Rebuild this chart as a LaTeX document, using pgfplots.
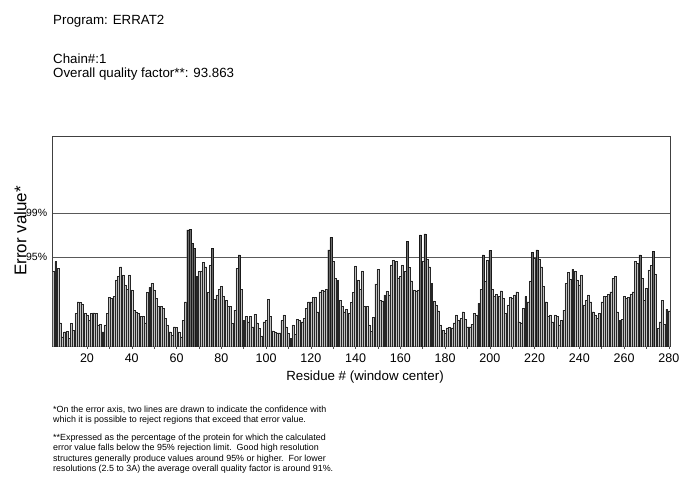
\documentclass[border=0pt]{standalone}
\usepackage{pgfplots}
\pgfplotsset{compat=1.18}
\usepackage{pgfplotstable}
\usepackage{fontspec}
\setmainfont{Liberation Sans}

% ERRAT2 error value per 9-residue window (window centre residue)
\pgfplotstableread{
res err
5 9.54
6 10.81
7 9.96
8 3.05
9 1.27
10 1.91
11 1.99
12 1.06
13 2.97
14 2.12
15 4.24
16 5.72
17 5.60
18 5.43
19 4.24
20 4.03
21 3.39
22 4.24
23 4.32
24 4.24
25 2.76
26 2.84
27 1.91
28 2.76
29 4.24
30 6.27
31 6.15
32 6.44
33 8.48
34 8.90
35 10.17
36 9.11
37 7.84
38 7.29
39 9.11
40 7.21
41 4.66
42 4.45
43 4.24
44 3.90
45 3.82
46 3.05
47 6.87
48 7.55
49 8.05
50 7.21
51 6.15
52 5.09
53 5.17
54 4.87
55 3.60
56 2.76
57 1.91
58 1.48
59 2.54
60 2.46
61 1.91
62 1.27
63 3.39
64 5.72
65 14.84
66 14.92
67 13.14
68 12.51
69 8.90
70 9.54
71 9.62
72 10.72
73 10.17
74 6.87
75 10.39
76 12.51
77 6.06
78 6.57
79 7.29
80 7.71
81 6.36
82 5.93
83 5.09
84 5.17
85 2.97
86 4.66
87 9.96
88 11.66
89 7.29
90 3.39
91 3.90
92 3.18
93 3.90
94 2.54
95 4.15
96 3.05
97 2.33
98 1.36
99 3.18
100 3.31
101 6.06
102 3.82
103 2.03
104 1.91
105 1.78
106 1.78
107 3.31
108 4.03
109 2.54
110 1.70
111 1.06
112 2.76
113 1.61
114 3.48
115 3.39
116 3.18
117 3.60
118 4.87
119 5.72
120 5.72
121 6.27
122 6.27
123 4.45
124 6.99
125 7.21
126 7.12
127 7.29
128 12.29
129 13.90
130 10.81
131 8.69
132 8.48
133 5.93
134 5.09
135 4.45
136 4.75
137 4.24
138 5.60
139 6.87
140 10.26
141 8.48
142 7.29
143 9.62
144 5.17
145 5.17
146 2.76
147 1.99
148 3.73
149 7.97
150 9.83
151 5.93
152 5.81
153 6.57
154 7.08
155 6.57
156 10.39
157 10.94
158 10.81
159 8.77
160 8.90
161 10.39
162 9.54
163 13.35
164 10.09
165 8.39
166 7.21
167 7.12
168 7.21
169 14.20
170 10.81
171 14.33
172 11.11
173 10.17
174 8.05
175 5.81
176 5.30
177 4.58
178 2.76
179 2.12
180 1.70
181 2.42
182 2.46
183 2.42
184 3.05
185 4.03
186 3.39
187 3.60
188 4.45
189 3.48
190 2.54
191 2.54
192 2.88
193 4.24
194 4.03
195 5.51
196 7.29
197 11.66
198 8.27
199 11.02
200 12.21
201 7.29
202 6.36
203 6.66
204 6.36
205 7.12
206 6.15
207 4.24
208 5.30
209 6.27
210 6.15
211 6.57
212 6.99
213 3.18
214 3.05
215 4.87
216 6.36
217 5.72
218 8.35
219 11.95
220 11.19
221 12.29
222 11.11
223 10.17
224 7.71
225 5.72
226 3.82
227 4.03
228 3.18
229 4.03
230 3.90
231 2.76
232 3.31
233 4.66
234 8.05
235 9.41
236 8.56
237 9.83
238 9.54
239 8.48
240 7.84
241 9.11
242 5.30
243 5.93
244 6.57
245 5.72
246 4.45
247 4.03
248 3.60
249 4.24
250 5.72
251 6.36
252 6.44
253 6.66
254 6.99
255 8.69
256 8.90
257 4.45
258 3.39
259 3.48
260 6.36
261 6.15
262 6.27
263 6.70
264 6.99
265 10.81
266 10.60
267 11.66
268 8.69
269 5.93
270 7.42
271 9.75
272 10.30
273 12.08
274 9.24
275 2.33
276 3.18
277 5.93
278 2.88
279 4.75
280 4.58
}\erratdata

\begin{document}
\begin{tikzpicture}
\useasboundingbox (0pt,0pt) rectangle (679pt,482pt);

% header
\node[anchor=base west, inner sep=0pt, font=\fontsize{13.3}{16}\selectfont] at (53pt,457pt) {Program: ERRAT2};
\node[anchor=base west, inner sep=0pt, font=\fontsize{13.3}{16}\selectfont] at (53pt,418.5pt) {Chain\#:1};
\node[anchor=base west, inner sep=0pt, font=\fontsize{13.3}{16}\selectfont] at (53pt,404pt) {Overall quality factor**: 93.863};

\begin{axis}[
  at={(52.3pt,135.3pt)}, anchor=south west,
  scale only axis, width=617.7pt, height=210pt,
  xmin=4.5, xmax=280.5, ymin=0, ymax=26.68,
  axis line style={draw=black!75, line width=0.5pt},
  xtick={20,40,...,280}, minor x tick num=1,
  xtick pos=bottom, tick align=outside,
  major tick length=2.5pt, minor tick length=2.5pt,
  tick style={draw=black!70, line width=0.5pt},
  xticklabel style={font=\fontsize{12.5}{14}\selectfont, inner sep=0pt, yshift=-4.5pt},
  ytick={11.36,16.95}, yticklabels={95\%,99\%},
  ytick pos=left, ytick style={draw=none},
  yticklabel style={font=\fontsize{10.5}{12}\selectfont, inner sep=0pt, xshift=-2.5pt},
  ymajorgrids, grid style={draw=black!65, line width=0.6pt},
  /pgf/number format/assume math mode=true,
  clip=true,
]
% windows below the 95% rejection limit
\addplot[ybar, bar width=0.88, bar shift=0pt, fill=black!24, draw=black!85, line width=0.3pt,
  restrict y to domain=0:11.36] table[x=res, y=err] {\erratdata};
% windows above the 95% rejection limit
\addplot[ybar, bar width=0.88, bar shift=0pt, fill=black!58, draw=black!90, line width=0.3pt,
  restrict y to domain=11.36:30] table[x=res, y=err] {\erratdata};
\end{axis}

% axis titles
\node[rotate=90, inner sep=0pt, font=\fontsize{17}{20}\selectfont] at (20.3pt,251pt) {Error value*};
\node[anchor=base, inner sep=0pt, font=\fontsize{13.3}{16}\selectfont] at (365pt,102pt) {Residue \# (window center)};

% footnotes
\begin{scope}[every node/.style={anchor=base west, inner sep=0pt, font=\fontsize{8.9}{10.5}\selectfont}]
\node at (53pt,70pt) {*On the error axis, two lines are drawn to indicate the confidence with};
\node at (53pt,59.5pt) {which it is possible to reject regions that exceed that error value.};
\node at (53pt,42pt) {**Expressed as the percentage of the protein for which the calculated};
\node at (53pt,31.5pt) {error value falls below the 95\% rejection limit.\ \ Good high resolution};
\node at (53pt,21pt) {structures generally produce values around 95\% or higher.\ \ For lower};
\node at (53pt,10.5pt) {resolutions (2.5 to 3A) the average overall quality factor is around 91\%.};
\end{scope}
\end{tikzpicture}
\end{document}
